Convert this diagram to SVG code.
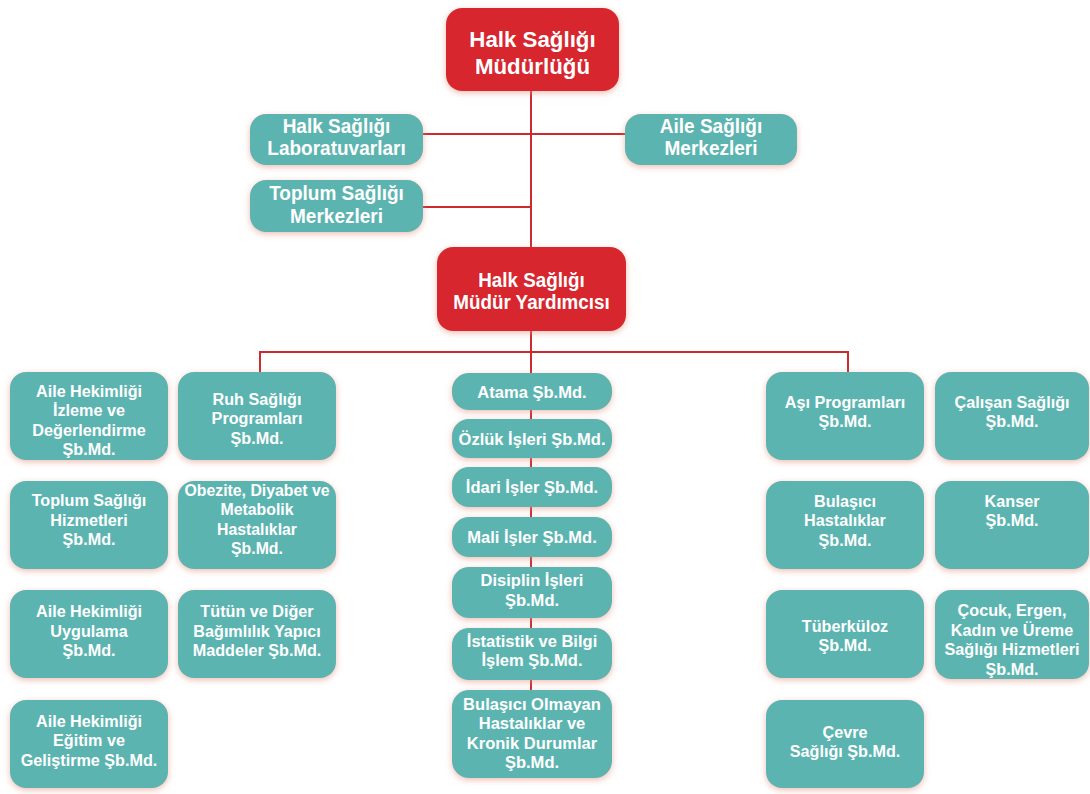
<svg xmlns="http://www.w3.org/2000/svg" width="1090" height="794" viewBox="0 0 1090 794">
<defs>
<filter id="glow" x="-20%" y="-25%" width="140%" height="160%">
<feDropShadow dx="0" dy="2" stdDeviation="3" flood-color="#e3907f" flood-opacity="0.6"/>
</filter>
<style>
.red{fill:#d7282e;filter:url(#glow)}
.teal{fill:#5cb4b0;filter:url(#glow)}
text{font-family:"Liberation Sans",Arial,sans-serif;font-weight:bold;fill:#ffffff;text-anchor:middle}
.s{font-size:17.4px}
.m{font-size:19.6px}
.l{font-size:23px}
.ln{stroke:#cc2a2e;stroke-width:2;fill:none}
</style>
</defs>
<rect width="1090" height="794" fill="#ffffff"/>
<g id="connectors">
<line class="ln" x1="531" y1="90" x2="531" y2="248"/>
<line class="ln" x1="423" y1="134" x2="625" y2="134"/>
<line class="ln" x1="423" y1="207" x2="531" y2="207"/>
<line class="ln" x1="531" y1="330" x2="531" y2="692"/>
<line class="ln" x1="260" y1="352" x2="848" y2="352"/>
<line class="ln" x1="260" y1="351" x2="260" y2="373"/>
<line class="ln" x1="848" y1="351" x2="848" y2="373"/>
</g>
<g id="n-mudurluk">
<rect class="red" x="446" y="8" width="173" height="83" rx="16"/>
<g transform="translate(532.5 0) scale(0.97 1)"><text class="l" y="47">Halk Sağlığı</text><text class="l" y="74">Müdürlüğü</text></g>
</g>
<g id="n-lab">
<rect class="teal" x="250" y="114" width="173" height="51" rx="16"/>
<g transform="translate(336.5 0) scale(0.97 1)"><text class="m" y="133">Halk Sağlığı</text><text class="m" y="155">Laboratuvarları</text></g>
</g>
<g id="n-asm">
<rect class="teal" x="625" y="114" width="172" height="51" rx="16"/>
<g transform="translate(711 0) scale(0.97 1)"><text class="m" y="133">Aile Sağlığı</text><text class="m" y="155">Merkezleri</text></g>
</g>
<g id="n-tsm">
<rect class="teal" x="250" y="180" width="173" height="52" rx="16"/>
<g transform="translate(336.5 0) scale(0.97 1)"><text class="m" y="200">Toplum Sağlığı</text><text class="m" y="223">Merkezleri</text></g>
</g>
<g id="n-yardimci">
<rect class="red" x="437" y="247" width="189" height="84" rx="16"/>
<g transform="translate(531.5 0) scale(0.96 1)"><text class="m" y="287">Halk Sağlığı</text><text class="m" y="309">Müdür Yardımcısı</text></g>
</g>
<!-- left column 1 -->
<g id="n-ahizleme">
<rect class="teal" x="10" y="372" width="158" height="88" rx="16"/>
<g transform="translate(89 0) scale(0.93 1)"><text class="s" y="396.75">Aile Hekimliği</text><text class="s" y="416.25">İzleme ve</text><text class="s" y="435.75">Değerlendirme</text><text class="s" y="455.25">Şb.Md.</text></g>
</g>
<g id="n-tshizmet">
<rect class="teal" x="10" y="481" width="158" height="88" rx="16"/>
<g transform="translate(89 0) scale(0.93 1)"><text class="s" y="506.5">Toplum Sağlığı</text><text class="s" y="526">Hizmetleri</text><text class="s" y="545.5">Şb.Md.</text></g>
</g>
<g id="n-ahuygulama">
<rect class="teal" x="10" y="590" width="158" height="88" rx="16"/>
<g transform="translate(89 0) scale(0.93 1)"><text class="s" y="617.5">Aile Hekimliği</text><text class="s" y="637">Uygulama</text><text class="s" y="656.5">Şb.Md.</text></g>
</g>
<g id="n-ahegitim">
<rect class="teal" x="10" y="700" width="158" height="88" rx="16"/>
<g transform="translate(89 0) scale(0.93 1)"><text class="s" y="727">Aile Hekimliği</text><text class="s" y="746.5">Eğitim ve</text><text class="s" y="766">Geliştirme Şb.Md.</text></g>
</g>
<!-- left column 2 -->
<g id="n-ruh">
<rect class="teal" x="178" y="372" width="158" height="88" rx="16"/>
<g transform="translate(257 0) scale(0.93 1)"><text class="s" y="405">Ruh Sağlığı</text><text class="s" y="424.5">Programları</text><text class="s" y="444">Şb.Md.</text></g>
</g>
<g id="n-obezite">
<rect class="teal" x="178" y="481" width="158" height="88" rx="16"/>
<g transform="translate(257 0) scale(0.91 1)"><text class="s" y="496">Obezite, Diyabet ve</text><text class="s" y="515.5">Metabolik</text><text class="s" y="535">Hastalıklar</text><text class="s" y="554.5">Şb.Md.</text></g>
</g>
<g id="n-tutun">
<rect class="teal" x="178" y="590" width="158" height="88" rx="16"/>
<g transform="translate(257 0) scale(0.93 1)"><text class="s" y="617.5">Tütün ve Diğer</text><text class="s" y="637">Bağımlılık Yapıcı</text><text class="s" y="656.5">Maddeler Şb.Md.</text></g>
</g>
<!-- middle column -->
<g id="n-atama">
<rect class="teal" x="452" y="373" width="160" height="37" rx="17"/>
<g transform="translate(532 0) scale(0.95 1)"><text class="s" y="398.5">Atama Şb.Md.</text></g>
</g>
<g id="n-ozluk">
<rect class="teal" x="452" y="419" width="160" height="39" rx="17"/>
<g transform="translate(532 0) scale(0.95 1)"><text class="s" y="445">Özlük İşleri Şb.Md.</text></g>
</g>
<g id="n-idari">
<rect class="teal" x="452" y="467" width="160" height="40" rx="17"/>
<g transform="translate(532 0) scale(0.95 1)"><text class="s" y="493.5">İdari İşler Şb.Md.</text></g>
</g>
<g id="n-mali">
<rect class="teal" x="452" y="517" width="160" height="40" rx="17"/>
<g transform="translate(532 0) scale(0.95 1)"><text class="s" y="543">Mali İşler Şb.Md.</text></g>
</g>
<g id="n-disiplin">
<rect class="teal" x="452" y="567" width="160" height="51" rx="17"/>
<g transform="translate(532 0) scale(0.95 1)"><text class="s" y="586.5">Disiplin İşleri</text><text class="s" y="606">Şb.Md.</text></g>
</g>
<g id="n-istatistik">
<rect class="teal" x="452" y="628" width="160" height="52" rx="17"/>
<g transform="translate(532 0) scale(0.95 1)"><text class="s" y="646.75">İstatistik ve Bilgi</text><text class="s" y="666.25">İşlem Şb.Md.</text></g>
</g>
<g id="n-bulasicidegil">
<rect class="teal" x="452" y="690" width="160" height="88" rx="17"/>
<g transform="translate(532 0) scale(0.95 1)"><text class="s" y="710">Bulaşıcı Olmayan</text><text class="s" y="729.5">Hastalıklar ve</text><text class="s" y="749">Kronik Durumlar</text><text class="s" y="768.5">Şb.Md.</text></g>
</g>
<!-- right column 1 -->
<g id="n-asi">
<rect class="teal" x="766" y="372" width="158" height="88" rx="16"/>
<g transform="translate(845 0) scale(0.93 1)"><text class="s" y="407.75">Aşı Programları</text><text class="s" y="427.25">Şb.Md.</text></g>
</g>
<g id="n-bulasici">
<rect class="teal" x="766" y="481" width="158" height="88" rx="16"/>
<g transform="translate(845 0) scale(0.93 1)"><text class="s" y="507">Bulaşıcı</text><text class="s" y="526.5">Hastalıklar</text><text class="s" y="546">Şb.Md.</text></g>
</g>
<g id="n-tuberkuloz">
<rect class="teal" x="766" y="590" width="158" height="88" rx="16"/>
<g transform="translate(845 0) scale(0.93 1)"><text class="s" y="631.75">Tüberküloz</text><text class="s" y="651.25">Şb.Md.</text></g>
</g>
<g id="n-cevre">
<rect class="teal" x="766" y="700" width="158" height="88" rx="16"/>
<g transform="translate(845 0) scale(0.93 1)"><text class="s" y="737.75">Çevre</text><text class="s" y="757.25">Sağlığı Şb.Md.</text></g>
</g>
<!-- right column 2 -->
<g id="n-calisan">
<rect class="teal" x="935" y="372" width="154" height="88" rx="16"/>
<g transform="translate(1012 0) scale(0.93 1)"><text class="s" y="407.75">Çalışan Sağlığı</text><text class="s" y="427.25">Şb.Md.</text></g>
</g>
<g id="n-kanser">
<rect class="teal" x="935" y="481" width="154" height="88" rx="16"/>
<g transform="translate(1012 0) scale(0.93 1)"><text class="s" y="507">Kanser</text><text class="s" y="526.5">Şb.Md.</text></g>
</g>
<g id="n-cocuk">
<rect class="teal" x="935" y="590" width="154" height="89" rx="16"/>
<g transform="translate(1012 0) scale(0.93 1)"><text class="s" y="616.25">Çocuk, Ergen,</text><text class="s" y="635.75">Kadın ve Üreme</text><text class="s" y="655.25">Sağlığı Hizmetleri</text><text class="s" y="674.75">Şb.Md.</text></g>
</g>
</svg>
